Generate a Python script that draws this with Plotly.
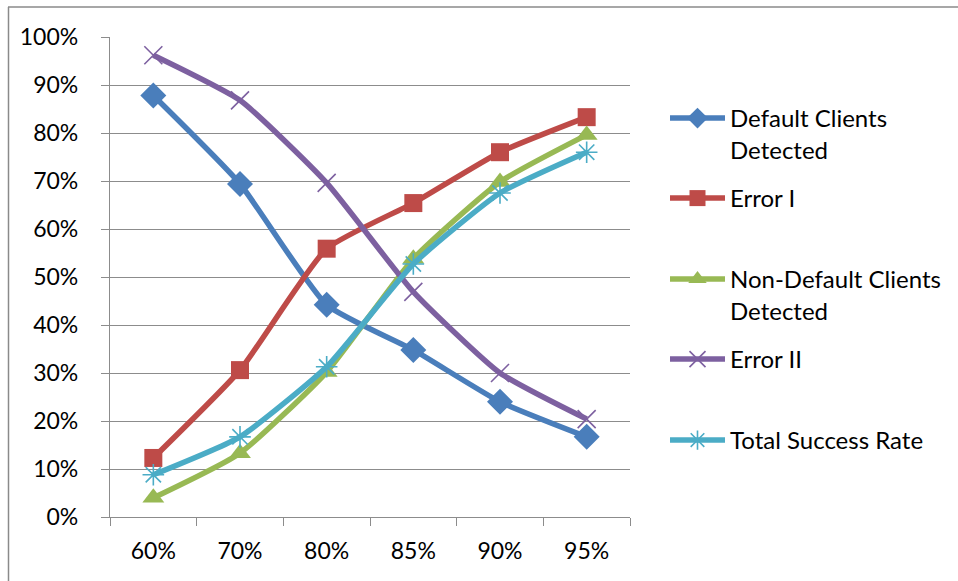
import plotly.graph_objects as go

# Cut-off thresholds on the category axis
thresholds = ["60%", "70%", "80%", "85%", "90%", "95%"]

# Rates (in %) for each threshold
default_detected = [87.8, 69.4, 44.2, 34.8, 24.0, 16.7]
error_1 = [12.3, 30.6, 55.9, 65.4, 76.0, 83.3]
non_default_detected = [4.0, 13.3, 30.2, 53.8, 69.8, 79.6]
error_2 = [96.2, 86.8, 69.6, 46.9, 30.0, 20.4]
total_success = [8.8, 16.7, 31.3, 52.7, 67.5, 76.0]

FONT = "Lato"
GRID = "#8c8c8c"
W, H = 958, 581

# name, values, colour, marker symbol, marker size, marker outline width, legend top (px)
series = [
    ("Default Clients<br>Detected", default_detected, "#4a7ebb", "diamond", 20, 0, 96),
    ("Error I", error_1, "#be4b48", "square", 18, 0, 176),
    ("Non-Default Clients<br>Detected", non_default_detected, "#98b954", "triangle-up", 19, 0, 257),
    ("Error II", error_2, "#7d60a0", "x-thin-open", 18, 1.6, 337),
    ("Total Success Rate", total_success, "#4bacc6", "asterisk-open", 18, 1.6, 418),
]

fig = go.Figure()
legends = {}
for i, (name, vals, color, sym, size, lw, top) in enumerate(series):
    key = "legend" if i == 0 else f"legend{i + 1}"
    marker = dict(symbol=sym, size=size, color=color)
    if lw:
        marker["line"] = dict(color=color, width=lw)
    fig.add_trace(go.Scatter(
        x=thresholds, y=vals, name=name, mode="lines+markers",
        line=dict(color=color, width=5.5, shape="spline", smoothing=0.5),
        marker=marker, legend=key,
    ))
    legends[key] = dict(
        xref="container", yref="container",
        x=665 / W, y=1 - top / H, xanchor="left", yanchor="top",
        valign="top", itemwidth=55, bgcolor="rgba(0,0,0,0)",
        font=dict(family=FONT, size=24, color="#000000"),
    )

fig.update_layout(
    width=W, height=H,
    margin=dict(l=110, r=328, t=37, b=64),
    paper_bgcolor="white", plot_bgcolor="white",
    font=dict(family=FONT, size=23, color="#000000"),
    showlegend=True,
    xaxis=dict(
        type="category", tickson="boundaries", ticks="outside", ticklen=8,
        tickcolor=GRID, showline=True, linecolor=GRID, linewidth=1.3,
        showgrid=False, tickfont=dict(size=23), range=[-0.5, 5.5],
        ticklabelstandoff=13,
    ),
    yaxis=dict(
        range=[0, 100], tickvals=list(range(0, 101, 10)),
        ticktext=[f"{v}%" for v in range(0, 101, 10)],
        ticks="outside", ticklen=8, tickcolor=GRID,
        showline=True, linecolor=GRID, linewidth=1.3,
        showgrid=True, gridcolor=GRID, gridwidth=1.3,
        zeroline=False, tickfont=dict(size=23), ticklabelstandoff=18,
    ),
    shapes=[
        # chart frame: top and left edges
        dict(type="line", xref="paper", yref="paper",
             x0=(8 - 110) / 520, x1=(960 - 110) / 520,
             y0=(517 - 7) / 480, y1=(517 - 7) / 480,
             line=dict(color="#8a8a8a", width=1.5)),
        dict(type="line", xref="paper", yref="paper",
             x0=(8.5 - 110) / 520, x1=(8.5 - 110) / 520,
             y0=(517 - 7) / 480, y1=(517 - 590) / 480,
             line=dict(color="#8a8a8a", width=1.5)),
    ],
    **legends,
)

fig.write_html("out.html")
